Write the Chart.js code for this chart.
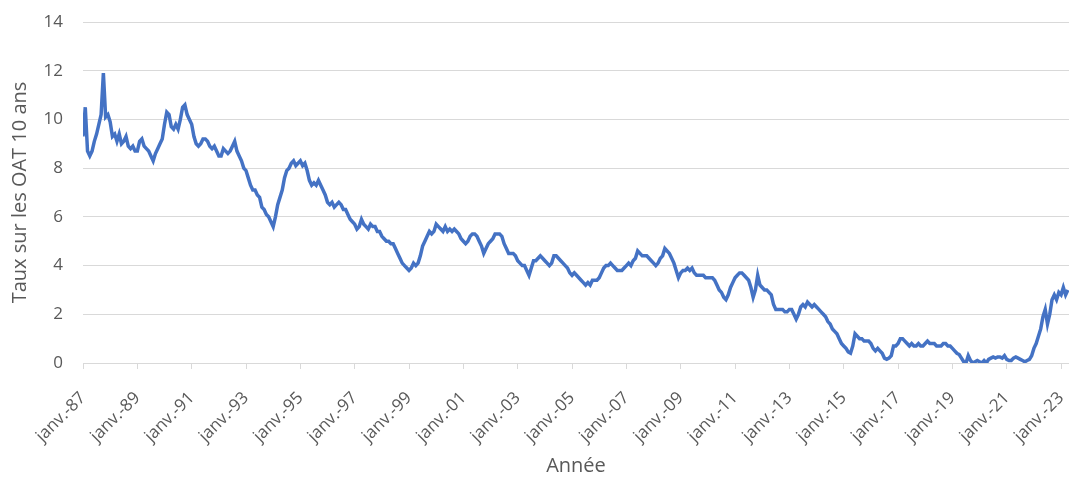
<!DOCTYPE html>
<html>
<head>
<meta charset="utf-8">
<script src="https://cdn.jsdelivr.net/npm/chart.js@4"></script>
<style>
  html, body { margin: 0; padding: 0; background: #fff; }
  #wrap { width: 1069px; height: 478px; }
</style>
</head>
<body>
<div id="wrap"><canvas id="oatChart"></canvas></div>
<script>
const startYear = 1987;
const tickYears = [1987, 1989, 1991, 1993, 1995, 1997, 1999, 2001, 2003, 2005,
                   2007, 2009, 2011, 2013, 2015, 2017, 2019, 2021, 2023];
const tickPrefix = 'janv.-';
const yTicks = [0, 2, 4, 6, 8, 10, 12, 14];

// taux OAT 10 ans, un point par mois (janv. 1987 -> avr. 2023)
const rates = [
  9.3, 10.5, 8.7, 8.5, 8.7, 9.1, 9.4, 9.8, 10.2, 11.9, 10.1, 10.2,   // 1987
  9.9, 9.3, 9.4, 9.1, 9.4, 9.0, 9.1, 9.3, 8.9, 8.8, 8.9, 8.7,        // 1988
  8.7, 9.1, 9.2, 8.9, 8.8, 8.7, 8.5, 8.3, 8.6, 8.8, 9.0, 9.2,        // 1989
  9.8, 10.3, 10.2, 9.7, 9.6, 9.8, 9.6, 10.0, 10.5, 10.6, 10.2, 10.0, // 1990
  9.8, 9.3, 9.0, 8.9, 9.0, 9.2, 9.2, 9.1, 8.9, 8.8, 8.9, 8.7,        // 1991
  8.5, 8.5, 8.8, 8.7, 8.6, 8.7, 8.9, 9.1, 8.7, 8.5, 8.3, 8.0,        // 1992
  7.9, 7.6, 7.3, 7.1, 7.1, 6.9, 6.8, 6.4, 6.3, 6.1, 6.0, 5.8,        // 1993
  5.6, 6.0, 6.5, 6.8, 7.1, 7.6, 7.9, 8.0, 8.2, 8.3, 8.1, 8.2,        // 1994
  8.3, 8.1, 8.2, 7.9, 7.5, 7.3, 7.4, 7.3, 7.5, 7.3, 7.1, 6.9,        // 1995
  6.6, 6.5, 6.6, 6.4, 6.5, 6.6, 6.5, 6.3, 6.3, 6.1, 5.9, 5.8,        // 1996
  5.7, 5.5, 5.6, 5.9, 5.7, 5.6, 5.5, 5.7, 5.6, 5.6, 5.4, 5.4,        // 1997
  5.2, 5.1, 5.0, 5.0, 4.9, 4.9, 4.7, 4.5, 4.3, 4.1, 4.0, 3.9,        // 1998
  3.8, 3.9, 4.1, 4.0, 4.1, 4.4, 4.8, 5.0, 5.2, 5.4, 5.3, 5.4,        // 1999
  5.7, 5.6, 5.5, 5.4, 5.6, 5.4, 5.5, 5.4, 5.5, 5.4, 5.3, 5.1,        // 2000
  5.0, 4.9, 5.0, 5.2, 5.3, 5.3, 5.2, 5.0, 4.8, 4.5, 4.7, 4.9,        // 2001
  5.0, 5.1, 5.3, 5.3, 5.3, 5.2, 4.9, 4.7, 4.5, 4.5, 4.5, 4.4,        // 2002
  4.2, 4.1, 4.0, 4.0, 3.8, 3.6, 3.9, 4.2, 4.2, 4.3, 4.4, 4.3,        // 2003
  4.2, 4.1, 4.0, 4.1, 4.4, 4.4, 4.3, 4.2, 4.1, 4.0, 3.9, 3.7,        // 2004
  3.6, 3.7, 3.6, 3.5, 3.4, 3.3, 3.2, 3.3, 3.2, 3.4, 3.4, 3.4,        // 2005
  3.5, 3.7, 3.9, 4.0, 4.0, 4.1, 4.0, 3.9, 3.8, 3.8, 3.8, 3.9,        // 2006
  4.0, 4.1, 4.0, 4.2, 4.3, 4.6, 4.5, 4.4, 4.4, 4.4, 4.3, 4.2,        // 2007
  4.1, 4.0, 4.1, 4.3, 4.4, 4.7, 4.6, 4.5, 4.3, 4.1, 3.8, 3.5,        // 2008
  3.7, 3.8, 3.8, 3.9, 3.8, 3.9, 3.7, 3.6, 3.6, 3.6, 3.6, 3.5,        // 2009
  3.5, 3.5, 3.5, 3.4, 3.2, 3.0, 2.9, 2.7, 2.6, 2.8, 3.1, 3.3,        // 2010
  3.5, 3.6, 3.7, 3.7, 3.6, 3.5, 3.4, 3.1, 2.7, 3.0, 3.6, 3.2,        // 2011
  3.1, 3.0, 3.0, 2.9, 2.8, 2.4, 2.2, 2.2, 2.2, 2.2, 2.1, 2.1,        // 2012
  2.2, 2.2, 2.0, 1.8, 2.0, 2.3, 2.4, 2.3, 2.5, 2.4, 2.3, 2.4,        // 2013
  2.3, 2.2, 2.1, 2.0, 1.9, 1.7, 1.6, 1.4, 1.3, 1.2, 1.0, 0.8,        // 2014
  0.7, 0.6, 0.45, 0.4, 0.7, 1.2, 1.1, 1.0, 1.0, 0.9, 0.9, 0.9,       // 2015
  0.8, 0.6, 0.5, 0.6, 0.5, 0.4, 0.2, 0.15, 0.2, 0.3, 0.7, 0.7,       // 2016
  0.8, 1.0, 1.0, 0.9, 0.8, 0.7, 0.8, 0.7, 0.7, 0.8, 0.7, 0.7,        // 2017
  0.8, 0.9, 0.8, 0.8, 0.8, 0.7, 0.7, 0.7, 0.8, 0.8, 0.7, 0.7,        // 2018
  0.6, 0.5, 0.4, 0.35, 0.2, 0.05, 0.0, 0.3, 0.1, 0.0, 0.05, 0.1,     // 2019
  0.05, 0.0, 0.1, 0.0, 0.15, 0.2, 0.25, 0.2, 0.25, 0.25, 0.2, 0.3,   // 2020
  0.15, 0.1, 0.1, 0.2, 0.25, 0.2, 0.15, 0.1, 0.05, 0.1, 0.15, 0.3,   // 2021
  0.6, 0.8, 1.1, 1.4, 1.9, 2.2, 1.6, 2.0, 2.6, 2.8, 2.6, 2.9,        // 2022
  2.8, 3.1, 2.8, 3.0                                                 // 2023
];

const points = rates.map((v, i) => ({ x: i, y: v }));
const grey = '#595959';
const gridGrey = '#d9d9d9';

new Chart(document.getElementById('oatChart'), {
  type: 'line',
  data: {
    datasets: [{
      label: 'OAT 10 ans',
      data: points,
      borderColor: '#4472C4',
      borderWidth: 3.5,
      pointRadius: 0,
      tension: 0,
      fill: false
    }]
  },
  options: {
    responsive: true,
    maintainAspectRatio: false,
    animation: false,
    layout: { padding: { left: 0, right: 0, top: 22, bottom: 0 } },
    plugins: {
      legend: { display: false },
      tooltip: { enabled: false }
    },
    scales: {
      x: {
        type: 'linear',
        min: 0,
        max: rates.length - 0.5,
        grid: {
          drawOnChartArea: false,
          drawTicks: true,
          tickLength: 6,
          color: gridGrey
        },
        border: { color: gridGrey, width: 1 },
        afterBuildTicks: (scale) => {
          scale.ticks = tickYears.map(y => ({ value: (y - startYear) * 12 }));
        },
        afterFit: (scale) => {
          scale.height = 115;
          scale.paddingLeft = 0;
          scale.paddingRight = 0;
        },
        ticks: {
          autoSkip: false,
          minRotation: 45,
          maxRotation: 45,
          padding: 19,
          color: grey,
          font: { family: 'Open Sans', size: 17 },
          callback: (value) => {
            const yr = startYear + value / 12;
            return tickPrefix + String(yr % 100).padStart(2, '0');
          }
        },
        title: {
          display: true,
          text: 'Année',
          color: grey,
          font: { family: 'Open Sans', size: 20 },
          padding: { top: 0, bottom: 0 }
        }
      },
      y: {
        min: 0,
        max: 14,
        afterBuildTicks: (scale) => {
          scale.ticks = yTicks.map(v => ({ value: v }));
        },
        afterFit: (scale) => {
          scale.width = 83;
          scale.paddingTop = 0;
          scale.paddingBottom = 0;
        },
        grid: {
          color: gridGrey,
          drawTicks: false
        },
        border: { display: false },
        ticks: {
          padding: 20,
          color: grey,
          font: { family: 'Open Sans', size: 17 }
        },
        title: {
          display: true,
          text: 'Taux sur les OAT 10 ans',
          color: grey,
          font: { family: 'Open Sans', size: 20 },
          padding: { top: 8, bottom: 0 }
        }
      }
    }
  }
});
</script>
</body>
</html>
